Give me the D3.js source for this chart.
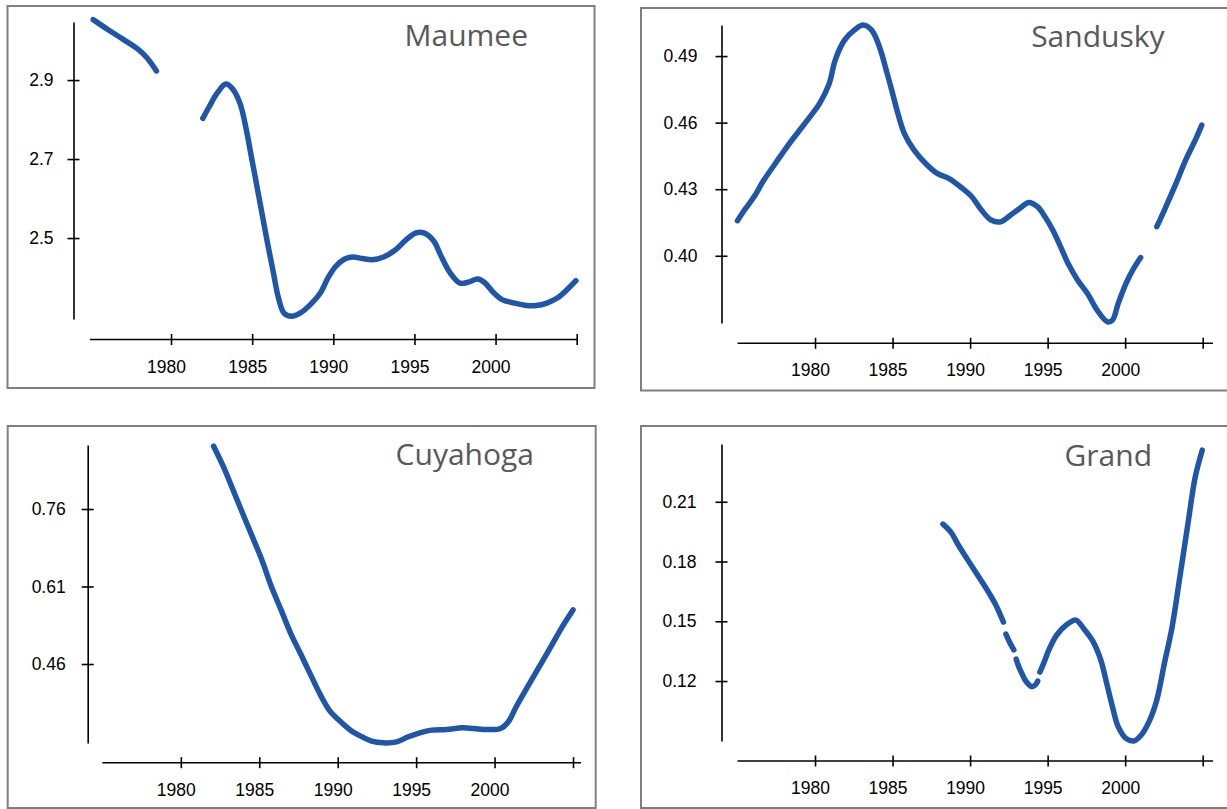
<!DOCTYPE html>
<html>
<head>
<meta charset="utf-8">
<script src="https://cdn.jsdelivr.net/npm/d3@7"></script>
<style>
  body { margin: 0; background: #fff; }
  svg { display: block; }
</style>
</head>
<body>
<svg id="chart" width="1227" height="809"></svg>
<script>
// Data, null = gap in the record
var maumeeYears = [1975.2, 1976.1, 1977.05, 1977.9, 1978.5, 1979.1, 1980.5, 1981.96, 1982.36, 1982.83, 1983.37, 1983.77,
    1984.25, 1984.6, 1984.95, 1985.3, 1985.73, 1986.0, 1986.3, 1986.6, 1986.96, 1987.43, 1988.0, 1988.6, 1989.2, 1989.67,
    1990.14, 1990.7, 1991.2, 1991.8, 1992.4, 1993.1, 1993.8, 1994.5, 1995.1, 1995.57, 1996.2, 1996.6, 1997.2, 1997.8,
    1998.3, 1998.9, 1999.3, 1999.9, 2000.4, 2001.1, 2001.8, 2002.5, 2003.2, 2003.8, 2004.4, 2004.95];
var maumeeValues = [3.053, 3.028, 3.003, 2.980, 2.957, 2.923, null, 2.803, 2.833, 2.866, 2.890, 2.879,
    2.841, 2.782, 2.706, 2.630, 2.535, 2.476, 2.414, 2.352, 2.310, 2.302, 2.311, 2.332, 2.361, 2.399,
    2.428, 2.447, 2.452, 2.448, 2.445, 2.452, 2.469, 2.496, 2.513, 2.513, 2.492, 2.458, 2.412, 2.386,
    2.388, 2.396, 2.388, 2.361, 2.344, 2.336, 2.330, 2.329, 2.336, 2.348, 2.369, 2.392];
var maumeeTicks = [2.5, 2.7, 2.9];

var sanduskyYears = [1975.0, 1975.45, 1976.07, 1976.7, 1977.44, 1978.19, 1978.93, 1979.68, 1980.3, 1980.92, 1981.3, 1981.9,
    1982.53, 1983.1, 1983.65, 1984.15, 1984.65, 1985.0, 1985.34, 1985.76, 1986.39, 1987.13, 1987.88, 1988.62, 1989.37,
    1990.11, 1990.73, 1991.35, 1991.97, 1992.6, 1993.2, 1993.79, 1994.34, 1994.83, 1995.33, 1995.83, 1996.32, 1996.94,
    1997.57, 1998.19, 1998.86, 1999.18, 1999.55, 2000.05, 2000.55, 2001.0, 2001.5, 2002.04, 2002.53, 2003.28, 2003.9,
    2004.52, 2004.94];
var sanduskyValues = [0.4158, 0.4206, 0.4266, 0.4341, 0.4416, 0.4491, 0.4559, 0.4627, 0.4687, 0.4777, 0.4882, 0.4972,
    0.5017, 0.5040, 0.5017, 0.4942, 0.4822, 0.4732, 0.4642, 0.4551, 0.4476, 0.4416, 0.4371, 0.4349, 0.4311,
    0.4266, 0.4206, 0.4161, 0.4153, 0.4183, 0.4213, 0.4240, 0.4221, 0.4176, 0.4116, 0.4041, 0.3965, 0.3890,
    0.3830, 0.3755, 0.3702, 0.3710, 0.3785, 0.3875, 0.3943, 0.3992, null, 0.4131, 0.4206, 0.4326, 0.4431,
    0.4521, 0.4589];
var sanduskyTicks = [0.40, 0.43, 0.46, 0.49];

var cuyahogaYears = [1982.09, 1982.7, 1983.32, 1983.93, 1984.55, 1985.16, 1985.77, 1986.39, 1987.0, 1987.62, 1988.23,
    1988.85, 1989.46, 1990.07, 1990.81, 1991.55, 1992.16, 1992.9, 1993.76, 1994.5, 1995.23, 1995.97, 1996.95, 1997.94,
    1998.67, 1999.53, 2000.39, 2000.88, 2001.38, 2002.11, 2002.85, 2003.59, 2004.32, 2005.0];
var cuyahogaValues = [0.8816, 0.8428, 0.7975, 0.7522, 0.707, 0.6617, 0.61, 0.5647, 0.5195, 0.4807, 0.4419,
    0.4031, 0.3708, 0.3514, 0.332, 0.3191, 0.3107, 0.3074, 0.3094, 0.3191, 0.3268, 0.332, 0.3333, 0.3365,
    0.3352, 0.3333, 0.3352, 0.3482, 0.3773, 0.416, 0.4548, 0.4936, 0.5324, 0.5647];
var cuyahogaTicks = [0.46, 0.61, 0.76];

var grandYears = [1988.25, 1988.75, 1989.24, 1989.86, 1990.48, 1991.1, 1991.6, 1992.15, 1992.24, 1992.31, 1992.55, 1992.82,
    1992.9, 1992.97, 1993.15, 1993.34, 1993.55, 1993.75, 1993.96, 1994.2, 1994.36, 1994.42, 1994.5, 1994.75, 1995.08,
    1995.58, 1996.2, 1996.82, 1997.32, 1997.94, 1998.43, 1998.81, 1999.18, 1999.55, 2000.05, 2000.55, 2001.04, 2001.54,
    2002.04, 2002.53, 2003.03, 2003.53, 2004.02, 2004.52, 2004.97];
var grandValues = [0.1988, 0.1949, 0.1883, 0.1807, 0.1732, 0.1657, 0.159, 0.1496, null, 0.1436, 0.1395, 0.1356,
    null, 0.1310, 0.1270, 0.1238, 0.1205, 0.1185, 0.1172, 0.1180, 0.1200, null, 0.1245, 0.1290, 0.1356,
    0.1431, 0.1481, 0.1506, 0.1464, 0.1397, 0.1305, 0.1188, 0.1071, 0.0971, 0.0912, 0.0899, 0.0929, 0.0996,
    0.1105, 0.1289, 0.1473, 0.1724, 0.1975, 0.2225, 0.2359];
var grandTicks = [0.12, 0.15, 0.18, 0.21];

var xTicks = [1980, 1985, 1990, 1995, 2000, 2005];
var xLabels = [1980, 1985, 1990, 1995, 2000];

var LINE_COLOR = "#1f56a7";

// layout of the four framed panels
var panels = [
    { title: "Maumee", years: maumeeYears, values: maumeeValues, ticks: maumeeTicks, fmt: ".1f",
      box: [7.5, 6, 587, 382], yAxisX: 73.5, yTop: 22, yBottom: 319, yDomain: [2.295, 3.047],
      xAxisY: 339.5, x0: 89.9, x1: 576.7, axisEnd: 578, labelGap: 20, titleX: 528, titleY: 46 },
    { title: "Sandusky", years: sanduskyYears, values: sanduskyValues, ticks: sanduskyTicks, fmt: ".2f",
      box: [641, 8, 600, 382.5], yAxisX: 721.5, yTop: 25, yBottom: 323, yDomain: [0.3697, 0.504],
      xAxisY: 343.3, x0: 737.5, x1: 1202.7, axisEnd: 1213, labelGap: 24, titleX: 1164.5, titleY: 47 },
    { title: "Cuyahoga", years: cuyahogaYears, values: cuyahogaValues, ticks: cuyahogaTicks, fmt: ".2f",
      box: [7.7, 426, 588, 382], yAxisX: 87.7, yTop: 445, yBottom: 743, yDomain: [0.3071, 0.8839],
      xAxisY: 762.7, x0: 102.4, x1: 573, axisEnd: 581, labelGap: 22, titleX: 534, titleY: 465 },
    { title: "Grand", years: grandYears, values: grandValues, ticks: grandTicks, fmt: ".2f",
      box: [641, 426, 600, 382], yAxisX: 721.5, yTop: 444, yBottom: 741, yDomain: [0.0899, 0.239],
      xAxisY: 761, x0: 737.5, x1: 1202.7, axisEnd: 1213, labelGap: 25, titleX: 1152, titleY: 466 }
];

var svg = d3.select("#chart");

function drawPanel(p) {
    var g = svg.append("g");

    // frame
    g.append("rect")
        .attr("x", p.box[0])
        .attr("y", p.box[1])
        .attr("width", p.box[2])
        .attr("height", p.box[3])
        .attr("fill", "none")
        .attr("stroke", "#7f7f7f")
        .attr("stroke-width", 2);

    var x = d3.scaleLinear().domain([1975, 2005]).range([p.x0, p.x1]);
    var y = d3.scaleLinear().domain(p.yDomain).range([p.yBottom, p.yTop]);

    // y axis, ticks cross the line
    var yAxis = g.append("g")
        .attr("transform", "translate(" + p.yAxisX + ",0)")
        .call(d3.axisLeft(y).tickValues(p.ticks).tickSize(6).tickSizeOuter(0).tickFormat(d3.format(p.fmt)));
    yAxis.selectAll(".tick line").attr("x1", 6);
    yAxis.selectAll(".tick text").attr("x", -p.labelGap);

    // x axis, drawn a little below the plot, no label at 2005
    var xAxis = g.append("g")
        .attr("transform", "translate(0," + p.xAxisY + ")")
        .call(d3.axisBottom(x).tickValues(xTicks).tickSize(5.5).tickSizeOuter(0)
            .tickFormat(function (d) { return xLabels.indexOf(d) >= 0 ? d : ""; }));
    xAxis.select(".domain").remove();
    xAxis.append("line")
        .attr("x1", p.x0)
        .attr("x2", p.axisEnd)
        .attr("stroke", "#000")
        .attr("stroke-width", 1.6);
    xAxis.selectAll(".tick line").attr("y1", -5.5);
    xAxis.selectAll(".tick text").attr("x", -5).attr("y", 33).attr("dy", null);

    g.selectAll(".domain, .tick line").attr("stroke-width", 1.6);
    g.selectAll(".tick text")
        .attr("fill", "#000")
        .style("font-family", "'Liberation Sans', Arial, sans-serif")
        .style("font-size", "17.5px");

    // series
    var pts = p.years.map(function (yr, i) { return { year: yr, v: p.values[i] }; });
    var line = d3.line()
        .defined(function (d) { return d.v != null; })
        .x(function (d) { return x(d.year); })
        .y(function (d) { return y(d.v); })
        .curve(d3.curveCatmullRom.alpha(0.5));

    g.append("path")
        .datum(pts)
        .attr("d", line)
        .attr("fill", "none")
        .attr("stroke", LINE_COLOR)
        .attr("stroke-width", 5.5)
        .attr("stroke-linecap", "round")
        .attr("stroke-linejoin", "round");

    // title
    g.append("text")
        .attr("x", p.titleX)
        .attr("y", p.titleY)
        .attr("text-anchor", "end")
        .style("font-family", "'Open Sans', sans-serif")
        .style("font-size", "30px")
        .attr("fill", "#595959")
        .text(p.title);
}

panels.forEach(drawPanel);
</script>
</body>
</html>
